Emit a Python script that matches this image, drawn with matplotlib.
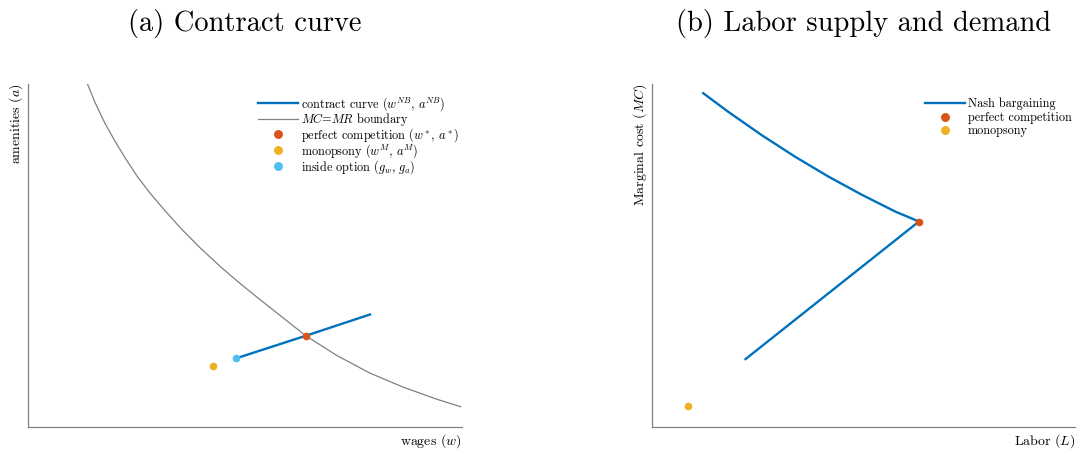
import matplotlib
matplotlib.use("Agg")
import matplotlib.pyplot as plt

plt.rcParams['font.family'] = ['cmr10', 'DejaVu Serif']
plt.rcParams['mathtext.fontset'] = 'cm'
plt.rcParams['axes.unicode_minus'] = False

# colours (MATLAB default order)
BLUE = '#0072BD'
ORANGE = '#D95319'
YELLOW = '#EDB120'
CYAN = '#4DBEEE'
GRAY = '#808080'

# (a) contract curve
mcmr_w = [1.37, 1.54, 1.77, 2.01, 2.24, 2.52, 2.81, 3.16, 3.50, 3.96, 4.42, 4.89,
          5.35, 5.88, 6.40, 7.11, 7.88, 8.65, 9.42, 9.97]
mcmr_a = [10.00, 9.47, 8.86, 8.32, 7.84, 7.30, 6.82, 6.30, 5.82, 5.23, 4.69, 4.18,
          3.71, 3.18, 2.66, 2.09, 1.57, 1.16, 0.81, 0.59]
nb_w = [4.79, 6.40, 7.88]
nb_a = [2.00, 2.66, 3.28]
pc_a_pt = (6.40, 2.66)
mono_a_pt = (4.26, 1.78)
inside_pt = (4.79, 2.00)

# (b) labor supply and demand
nash_L = [1.21, 1.80, 2.59, 3.38, 4.17, 4.96, 5.75, 6.31, 2.21]
nash_MC = [9.73, 9.19, 8.51, 7.88, 7.30, 6.77, 6.28, 5.99, 1.98]
pc_b_pt = (6.31, 5.99)
mono_b_pt = (0.86, 0.62)

fig = plt.figure(figsize=(10.86, 4.55), dpi=100)
ax1 = fig.add_axes([0.0258, 0.0615, 0.3996, 0.754])
ax2 = fig.add_axes([0.6004, 0.0615, 0.3895, 0.754])

for ax in (ax1, ax2):
    ax.set_xlim(0, 10)
    ax.set_ylim(0, 10)
    ax.set_xticks([])
    ax.set_yticks([])
    for s in ('top', 'right'):
        ax.spines[s].set_visible(False)
    for s in ('left', 'bottom'):
        ax.spines[s].set_color(GRAY)
        ax.spines[s].set_linewidth(0.9)

leg_kw = dict(frameon=False, fontsize=8.8, borderpad=0, borderaxespad=0,
              handlelength=3.3, handletextpad=0.2, markerscale=1.2)

ax1.plot(nb_w, nb_a, color=BLUE, lw=1.7, label=r'contract curve ($w^{NB}$, $a^{NB}$)', zorder=3)
ax1.plot(mcmr_w, mcmr_a, color=GRAY, lw=0.9, label=r'$MC$=$MR$ boundary', zorder=2)
ax1.plot(*pc_a_pt, 'o', color=ORANGE, ms=4.5, label=r'perfect competition ($w^*$, $a^*$)', zorder=4)
ax1.plot(*mono_a_pt, 'o', color=YELLOW, ms=4.5, label=r'monopsony ($w^M$, $a^M$)', zorder=4)
ax1.plot(*inside_pt, 'o', color=CYAN, ms=4.5, label=r'inside option ($g_w$, $g_a$)', zorder=4)
ax1.set_title('(a) Contract curve', fontsize=20.5, pad=38)
ax1.set_xlabel(r'wages ($w$)', loc='right', fontsize=10, labelpad=4)
ax1.set_ylabel(r'amenities ($a$)', loc='top', fontsize=10, labelpad=2)
ax1.legend(loc='upper left', bbox_to_anchor=(0.53, 0.968), labelspacing=-0.15, **leg_kw)

ax2.plot(nash_L, nash_MC, color=BLUE, lw=1.7, label='Nash bargaining', zorder=3)
ax2.plot(*pc_b_pt, 'o', color=ORANGE, ms=4.5, label='perfect competition', zorder=4)
ax2.plot(*mono_b_pt, 'o', color=YELLOW, ms=4.5, label='monopsony', zorder=4)
ax2.set_title('(b) Labor supply and demand', fontsize=20.5, pad=38)
ax2.set_xlabel(r'Labor ($L$)', loc='right', fontsize=10, labelpad=4)
ax2.set_ylabel(r'Marginal cost ($MC$)', loc='top', fontsize=10, labelpad=2)
ax2.legend(loc='upper left', bbox_to_anchor=(0.645, 0.96), labelspacing=0.12, **leg_kw)

fig.savefig('out.png', dpi=100)
